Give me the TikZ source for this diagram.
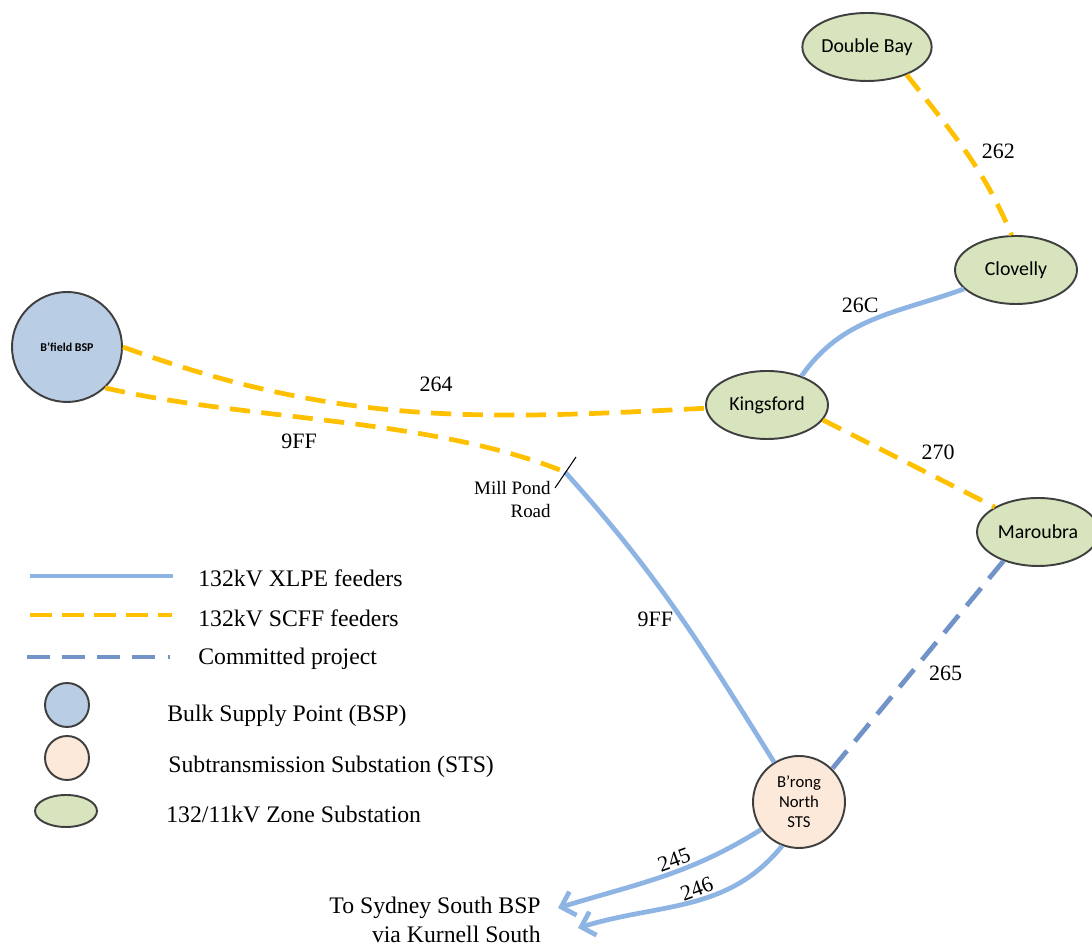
\documentclass[tikz,border=0pt]{standalone}
\usepackage{fontspec}
\setmainfont{Liberation Serif}
\newfontfamily\calfont{Carlito}
\usepackage{tikz}
\usetikzlibrary{positioning}
\usetikzlibrary{shapes.geometric}
\usetikzlibrary{arrows.meta}

\definecolor{xlpeblue}{HTML}{8EB4E3}
\definecolor{scffgold}{HTML}{FFC000}
\definecolor{commitblue}{HTML}{7293C8}
\definecolor{bulkfill}{HTML}{B9CDE5}
\definecolor{stsfill}{HTML}{FDE9D9}
\definecolor{zonefill}{HTML}{D7E4BD}
\definecolor{rimgray}{HTML}{3F3F3F}

\begin{document}
\begin{tikzpicture}[x=0.02cm,y=0.02cm,
  xlpe/.style={draw=xlpeblue,line width=2.7pt},
  scff/.style={draw=scffgold,line width=2.7pt,dash pattern=on 11.5pt off 6.5pt},
  committed/.style={draw=commitblue,line width=2.7pt,dash pattern=on 13pt off 7pt},
  zone/.style={ellipse,draw=rimgray,line width=1.1pt,fill=zonefill,minimum width=2.44cm,minimum height=1.36cm,inner sep=0pt,font=\calfont\fontsize{11.3}{13}\selectfont},
  bulk/.style={circle,draw=rimgray,line width=1.1pt,fill=bulkfill,minimum size=2.2cm,inner sep=0pt},
  subtx/.style={circle,draw=rimgray,line width=1.1pt,fill=stsfill,minimum size=1.84cm,inner sep=0pt},
  feeder/.style={font=\fontsize{12.5}{14}\selectfont,inner sep=1pt},
  keytext/.style={font=\fontsize{13.5}{16}\selectfont,inner sep=0pt,anchor=base west}]
\useasboundingbox (0,0) rectangle (1092,949);

% substations
\node[bulk,font=\calfont\bfseries\fontsize{6.8}{8}\selectfont] (bfield) at (67,602) {B’field BSP};
\node[zone] (dbay) at (867,902) {Double Bay};
\node[zone] (clov) at (1016,679) {Clovelly};
\node[zone] (kings) at (767,544) {Kingsford};
\node[zone] (marou) at (1038,417) {Maroubra};
\node[subtx,align=center,font=\calfont\fontsize{9.5}{11.3}\selectfont] (brong) at (799,147) {B’rong\\North\\STS};
\coordinate (mill) at (565,477);
\coordinate (sydA) at (558,41);
\coordinate (sydB) at (578,21);

% feeders
\path[scff] (dbay.-35) edge[out=-52,in=113] node[feeder,pos=.5,right=7pt] {262} (clov.97);
\path[xlpe] (kings.40) edge[out=55,in=200] node[feeder,pos=.42,above=5pt] {26C} (clov);
\path[scff] (bfield.east) edge[out=-20,in=183] node[feeder,pos=.55,above=10pt] {264} (kings);
\path[scff] (bfield.-47) edge[out=-13,in=158,looseness=.8] node[feeder,pos=.42,below=7pt] {9FF} (mill);
\path[xlpe] (mill) edge[out=-48,in=122] node[feeder,pos=.53,left=3pt] {9FF} (brong);
\path[scff] (kings.-15) edge node[feeder,pos=.67,above=8pt] {270} (marou.150);
\path[committed] (marou.220) edge node[feeder,pos=.54,right=8pt] {265} (brong.45);
\draw[xlpe,-{Straight Barb[length=7pt,width=14pt]}] (brong.216) to[out=212,in=17] node[feeder,pos=.42,rotate=20,anchor=south] {245} (sydA);
\draw[xlpe,-{Straight Barb[length=7pt,width=14pt]}] (brong.249) to[out=231,in=17] node[feeder,pos=.45,rotate=20,anchor=south] {246} (sydB);

% Mill Pond Road joint
\draw[line width=0.6pt] ([shift={(-10,-16)}]mill) -- ([shift={(11,15)}]mill);
\node[font=\fontsize{10.8}{13}\selectfont,align=right,inner sep=0pt,anchor=north east] (milltext) at (551,468) {Mill Pond\\Road};
\node[font=\fontsize{13.5}{16.4}\selectfont,align=right,inner sep=0pt,anchor=north east] (sydtext) at (541,52) {To Sydney South BSP\\via Kurnell South};

% legend
\draw[xlpe] (30,373) -- (173,373);
\draw[scff,dash pattern=on 12.5pt off 5.7pt] (30,334) -- (172,334);
\draw[committed] (27,292) -- (170,292);
\node[bulk,minimum size=0.88cm] (keybulk) at (67,244) {};
\node[subtx,minimum size=0.88cm] (keysts) at (67,191) {};
\node[zone,minimum width=1.24cm,minimum height=0.64cm] (keyzone) at (66,138) {};
\node[keytext] (keyxlpe) at (198,362) {132kV XLPE feeders};
\node[keytext] (keyscff) at (198,322) {132kV SCFF feeders};
\node[keytext] (keycomm) at (198,284) {Committed project};
\node[keytext] (keybulkt) at (167,227) {Bulk Supply Point (BSP)};
\node[keytext] (keyststx) at (168,176) {Subtransmission Substation (STS)};
\node[keytext] (keyzonet) at (166,126) {132/11kV Zone Substation};
\end{tikzpicture}
\end{document}
